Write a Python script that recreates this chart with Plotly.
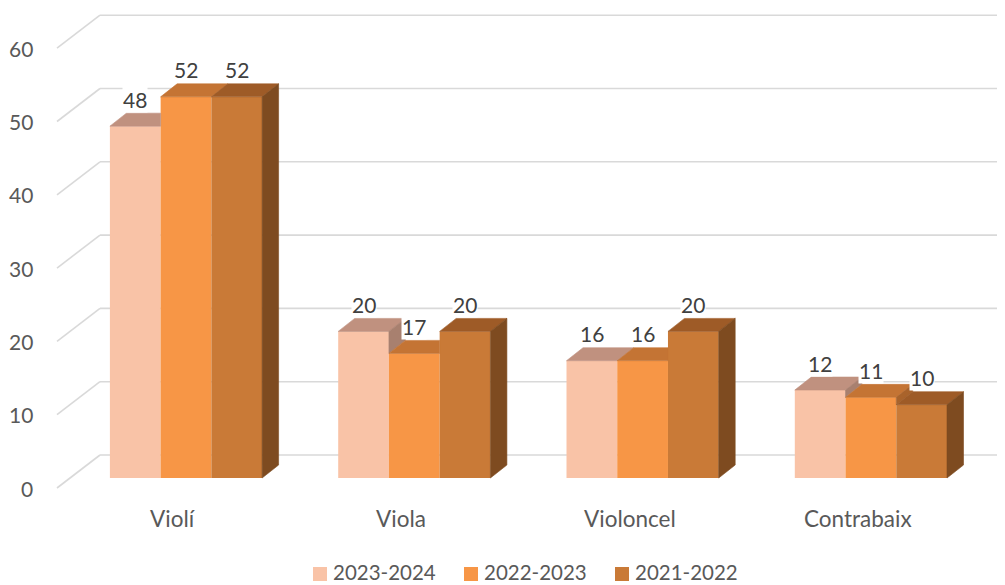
import plotly.graph_objects as go

# ---------------- data ----------------
categories = ["Violí", "Viola", "Violoncel", "Contrabaix"]
series_names = ["2023-2024", "2022-2023", "2021-2022"]
vals_2023_2024 = [48, 20, 16, 12]
vals_2022_2023 = [52, 17, 16, 11]
vals_2021_2022 = [52, 20, 20, 10]
y_ticks = [0, 10, 20, 30, 40, 50, 60]

series_values = [vals_2023_2024, vals_2022_2023, vals_2021_2022]

# ---------------- style ----------------
front_colors = ["#F9C3A7", "#F79646", "#C97A37"]
top_colors = ["#C0917F", "#C47434", "#9E5B27"]
side_colors = ["#A8806F", "#A9632B", "#7E4B20"]
grid_color = "#D9D9D9"
tick_color = "#595959"
label_color = "#404040"
FONT = "Lato"
FS = 21
FS_CAT = 22.5
FS_LEG = 20.5

W, H = 1005, 585
PAGE_OFF = 8   # page body margin offset
KY = 7.33      # px per value unit
KX = 228.3     # px per category unit
X0_PX = 186 - PAGE_OFF    # px of first category's group centre
Y0_PX = 478 - PAGE_OFF    # px of value 0 on the bar-front plane

BAR_W = 1 / 4.5
DX_BAR, DY_BAR = 16.5 / KX, 13 / KY
FLOOR_DX, FLOOR_DY = -13 / KX, -10 / KY
WALL_DX, WALL_DY = 43 / KX, 33 / KY
FLOOR_LEFT = (57 - PAGE_OFF - X0_PX) / KX

x_range = [-X0_PX / KX, (W - X0_PX) / KX]
y_range = [-(H - Y0_PX) / KY, Y0_PX / KY]

fig = go.Figure()

# front faces (real bars)
n_ser = len(series_values)
for s, (name, vals) in enumerate(zip(series_names, series_values)):
    xs = [i + (s - (n_ser - 1) / 2) * BAR_W for i in range(len(categories))]
    fig.add_trace(go.Bar(
        x=xs, y=vals, width=BAR_W, name=name, showlegend=False,
        marker=dict(color=front_colors[s], line=dict(width=0)),
        hoverinfo="skip",
    ))

# top and side faces (visible parts only)
for i in range(len(categories)):
    for s in range(n_ser):
        v = series_values[s][i]
        xl = i + (s - (n_ser - 1) / 2) * BAR_W - BAR_W / 2
        xr = xl + BAR_W
        nxt = series_values[s + 1][i] if s + 1 < n_ser else None
        if nxt is not None and nxt > v:
            tx = [xl, xr, xr, xl + DX_BAR, xl]
        else:
            tx = [xl, xr, xr + DX_BAR, xl + DX_BAR, xl]
        ty = [v, v, v + DY_BAR, v + DY_BAR, v]
        fig.add_trace(go.Scatter(
            x=tx, y=ty, mode="lines", fill="toself",
            fillcolor=top_colors[s], line=dict(color=top_colors[s], width=0.6),
            showlegend=False, hoverinfo="skip"))
        if nxt is None:
            base = 0
        elif v > nxt:
            base = nxt
        else:
            base = None
        if base is not None:
            sx = [xr, xr, xr + DX_BAR, xr + DX_BAR, xr]
            sy = [base, v, v + DY_BAR, base + DY_BAR, base]
            fig.add_trace(go.Scatter(
                x=sx, y=sy, mode="lines", fill="toself",
                fillcolor=side_colors[s], line=dict(color=side_colors[s], width=0.6),
                showlegend=False, hoverinfo="skip"))

shapes = []
annotations = []
for t in y_ticks:
    yf = t + FLOOR_DY
    yb = yf + WALL_DY
    shapes.append(dict(type="line", xref="x", yref="y", layer="below",
                       x0=FLOOR_LEFT, y0=yf, x1=FLOOR_LEFT + WALL_DX, y1=yb,
                       line=dict(color=grid_color, width=1.6)))
    shapes.append(dict(type="line", xref="x", yref="y", layer="below",
                       x0=FLOOR_LEFT + WALL_DX, y0=yb, x1=x_range[1], y1=yb,
                       line=dict(color=grid_color, width=1.6)))
    annotations.append(dict(x=FLOOR_LEFT - 22 / KX, y=yf, xref="x", yref="y",
                            text=str(t), showarrow=False, xanchor="right", yanchor="middle",
                            font=dict(family=FONT, size=FS, color=tick_color)))

for i, c in enumerate(categories):
    annotations.append(dict(x=i + FLOOR_DX, y=-40 / KY, xref="x", yref="y",
                            text=c, showarrow=False, xanchor="center", yanchor="middle",
                            font=dict(family=FONT, size=FS_CAT, color=tick_color)))

for s, vals in enumerate(series_values):
    for i, v in enumerate(vals):
        xc = i + (s - (n_ser - 1) / 2) * BAR_W
        annotations.append(dict(x=xc, y=v + 27 / KY, xref="x", yref="y",
                                text=str(v), showarrow=False, xanchor="center", yanchor="middle",
                                bgcolor="white", borderpad=0,
                                font=dict(family=FONT, size=FS, color=label_color)))

# legend (drawn manually so that it sits exactly at the bottom)
LEG_X0 = 313 - PAGE_OFF
LEG_STEP = 151
LEG_SQ = 14
LEG_CY = 572 - PAGE_OFF
for s, name in enumerate(series_names):
    x0 = LEG_X0 + s * LEG_STEP
    shapes.append(dict(type="rect", xref="paper", yref="paper",
                       x0=x0 / W, x1=(x0 + LEG_SQ) / W,
                       y0=1 - (LEG_CY + 2 + LEG_SQ / 2) / H, y1=1 - (LEG_CY + 2 - LEG_SQ / 2) / H,
                       fillcolor=front_colors[s], line=dict(width=0)))
    annotations.append(dict(x=(x0 + LEG_SQ + 5) / W, y=1 - LEG_CY / H, xref="paper", yref="paper",
                            text=name, showarrow=False, xanchor="left", yanchor="middle",
                            borderpad=0,
                            font=dict(family=FONT, size=FS_LEG, color=tick_color)))

fig.update_layout(
    width=W, height=H,
    margin=dict(l=0, r=0, t=0, b=0),
    paper_bgcolor="white", plot_bgcolor="white",
    barmode="overlay",
    xaxis=dict(range=x_range, visible=False, fixedrange=True),
    yaxis=dict(range=y_range, visible=False, fixedrange=True),
    shapes=shapes, annotations=annotations,
    showlegend=False,
)

fig.write_html("out.html")
